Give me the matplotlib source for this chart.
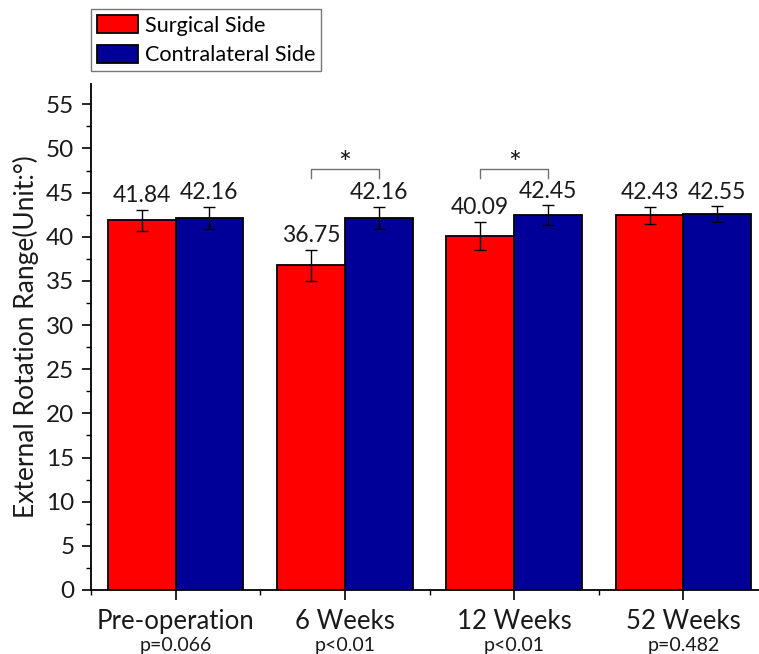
import matplotlib
matplotlib.use("Agg")
import matplotlib.pyplot as plt
import numpy as np
from matplotlib.ticker import MultipleLocator, FixedLocator

plt.rcParams['font.family'] = ['Lato', 'DejaVu Sans']

categories = ["Pre-operation", "6 Weeks", "12 Weeks", "52 Weeks"]
p_values = ["p=0.066", "p<0.01", "p<0.01", "p=0.482"]
surgical = [41.84, 36.75, 40.09, 42.43]
surgical_err = [1.2, 1.75, 1.6, 0.95]
contralateral = [42.16, 42.16, 42.45, 42.55]
contralateral_err = [1.25, 1.25, 1.1, 0.9]
significant = [False, True, True, False]

fig = plt.figure(figsize=(7.59, 6.54), dpi=100)
ax = fig.add_axes([0.1199, 0.0979, 0.892, 0.7737])

x = np.arange(len(categories))
w = 0.4
red = "#FF0000"
blue = "#000099"
txt = "#1a1a1a"

b1 = ax.bar(x - w / 2, surgical, w, color=red, edgecolor="black", linewidth=1.3,
            label="Surgical Side", zorder=2)
b2 = ax.bar(x + w / 2, contralateral, w, color=blue, edgecolor="black", linewidth=1.3,
            label="Contralateral Side", zorder=2)
ax.errorbar(x - w / 2, surgical, yerr=surgical_err, fmt="none", ecolor="black",
            elinewidth=1, capsize=4, capthick=1, zorder=3)
ax.errorbar(x + w / 2, contralateral, yerr=contralateral_err, fmt="none", ecolor="black",
            elinewidth=1, capsize=4, capthick=1, zorder=3)

for xs, vals, errs in ((x - w / 2, surgical, surgical_err), (x + w / 2, contralateral, contralateral_err)):
    for xi, v, e in zip(xs, vals, errs):
        ax.annotate(f"{v:.2f}", (xi, v + e), xytext=(0, 5.5), textcoords="offset points",
                    ha="center", va="baseline", fontsize=16.5, color=txt)

for xi, sig in zip(x, significant):
    if sig:
        y0, y1 = 46.7, 47.7
        ax.plot([xi - w / 2, xi - w / 2, xi + w / 2, xi + w / 2], [y0, y1, y1, y0],
                color="#707070", lw=1, zorder=3)
        ax.text(xi, 47.2, "*", ha="center", va="baseline", fontsize=22, color=txt)

ax.set_xlim(-0.5, 3.5)
ax.set_ylim(0, 57.3)
ax.spines["top"].set_visible(False)
ax.spines["right"].set_visible(False)
ax.spines["left"].set_linewidth(1.3)
ax.spines["bottom"].set_linewidth(1.3)

ax.yaxis.set_major_locator(MultipleLocator(5))
ax.yaxis.set_minor_locator(MultipleLocator(2.5))
ax.set_yticks(np.arange(0, 56, 5))
ax.tick_params(axis="y", which="major", length=6.5, width=1.2, labelsize=17.5,
               direction="out", pad=5.5, labelcolor=txt)
ax.tick_params(axis="y", which="minor", length=3.6, width=1.0, direction="out")

ax.set_xticks(x)
ax.set_xticklabels([""] * len(categories))
ax.xaxis.set_minor_locator(FixedLocator([-0.5, 0.5, 1.5, 2.5]))
ax.tick_params(axis="x", which="major", length=7, width=1.2, direction="out")
ax.tick_params(axis="x", which="minor", length=3.6, width=1.0, direction="out")

for xi, cat, p in zip(x, categories, p_values):
    ax.annotate(cat, (xi, 0), xycoords=("data", "axes fraction"), xytext=(0, -13.5),
                textcoords="offset points", ha="center", va="top", fontsize=18.5, color=txt)
    ax.annotate(p, (xi, 0), xycoords=("data", "axes fraction"), xytext=(0, -34),
                textcoords="offset points", ha="center", va="top", fontsize=14, color=txt)

ax.set_ylabel("External Rotation Range(Unit:°)", fontsize=19, color=txt, labelpad=5)

leg = fig.legend(handles=[b1, b2], loc="upper left", bbox_to_anchor=(91 / 759, 1 - 9 / 654),
                 frameon=True, fancybox=False, edgecolor="#555555", fontsize=15.6,
                 handlelength=1.9, handleheight=0.92, handletextpad=0.3, borderpad=0.28,
                 labelspacing=0.42, borderaxespad=0)
leg.get_frame().set_linewidth(1.0)

fig.savefig("out.png", dpi=100)
